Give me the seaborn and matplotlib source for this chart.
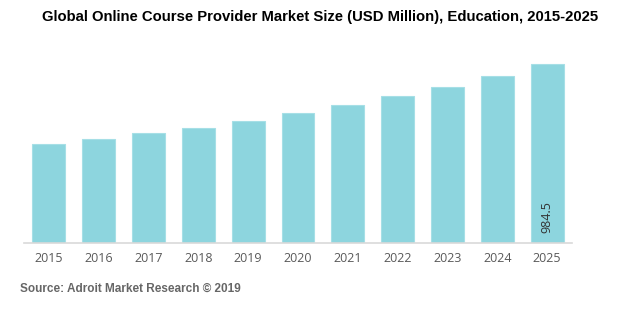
import matplotlib
matplotlib.use("Agg")
import matplotlib.pyplot as plt
import seaborn as sns
import pandas as pd

years = ["2015", "2016", "2017", "2018", "2019", "2020",
         "2021", "2022", "2023", "2024", "2025"]
market_size = [544.5, 572.0, 605.0, 636.0, 674.0, 715.0,
               759.0, 808.5, 861.0, 918.5, 984.5]
labelled_year = "2025"

title = "Global Online Course Provider Market Size (USD Million), Education, 2015-2025"
source = "Source: Adroit Market Research \u00a9 2019"

df = pd.DataFrame({"year": years, "size": market_size})

sns.set_theme(style="white")
plt.rcParams["font.family"] = ["Liberation Sans", "DejaVu Sans"]

fig = plt.figure(figsize=(6.28, 3.27), dpi=100)
ax = fig.add_axes([0.0382, 0.256, 0.8726, 0.576])

sns.barplot(data=df, x="year", y="size", color="#8DD5DE", saturation=1,
            width=0.66, edgecolor="#A6DFE6", linewidth=0.8, ax=ax)

ax.set_xlim(-0.5, len(years) - 0.5)
ax.set_ylim(0, 1036)
ax.set_xlabel("")
ax.set_ylabel("")
ax.set_yticks([])
for side in ["top", "right", "left"]:
    ax.spines[side].set_visible(False)
ax.spines["bottom"].set_color("#D9D9D9")
ax.spines["bottom"].set_linewidth(1.2)
ax.tick_params(axis="x", length=0, pad=6, labelsize=9, labelcolor="#595959")
for lbl in ax.get_xticklabels():
    lbl.set_fontfamily(["Open Sans", "DejaVu Sans"])

idx = years.index(labelled_year)
ax.text(idx, 55, f"{market_size[idx]:.1f}", rotation=90, ha="center",
        va="bottom", fontsize=9, color="#333333",
        family=["Open Sans", "DejaVu Sans"])

fig.text(0.509, 0.948, title, ha="center", va="center", fontsize=10.7,
         fontweight="bold", color="#000000")
fig.text(0.032, 0.118, source, ha="left", va="center", fontsize=8.5,
         fontweight="bold", color="#666666")

fig.savefig("out.png", dpi=100)
